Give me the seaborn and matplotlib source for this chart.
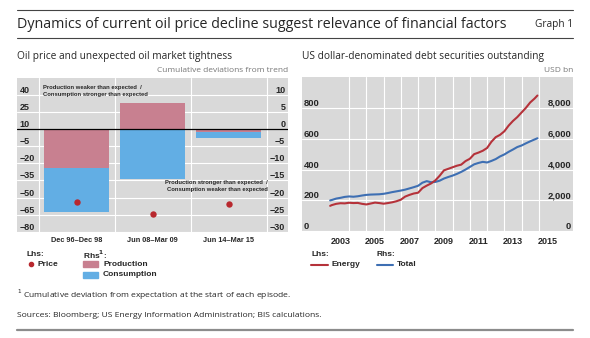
import matplotlib
matplotlib.use("Agg")
import matplotlib.pyplot as plt
import matplotlib.ticker as mticker
from matplotlib.lines import Line2D
from matplotlib.patches import Rectangle
import pandas as pd
import seaborn as sns

# ---------------- data ----------------
# Left panel: oil market episodes
episodes = ["Dec 96\u2013Dec 98", "Jun 08\u2013Mar 09", "Jun 14\u2013Mar 15"]
price = [-53.5, -64.5, -55.5]            # lhs, cumulative deviation from trend
production = [-11.4, 7.6, -0.7]          # rhs
consumption = [-12.8, -14.7, -1.9]       # rhs
lhs_ticks = [-80, -65, -50, -35, -20, -5, 10, 25, 40]
rhs_ticks = [-30, -25, -20, -15, -10, -5, 0, 5, 10]

# Right panel: US dollar-denominated debt securities outstanding (USD bn)
dates = [2002.90, 2003.00, 2003.25, 2003.50, 2003.75, 2004.00, 2004.25, 2004.50,
         2004.75, 2005.00, 2005.25, 2005.50, 2005.75, 2006.00, 2006.25, 2006.50,
         2006.75, 2007.00, 2007.25, 2007.50, 2007.75, 2008.00, 2008.25, 2008.50,
         2008.75, 2009.00, 2009.25, 2009.50, 2009.75, 2010.00, 2010.25, 2010.50,
         2010.75, 2011.00, 2011.25, 2011.50, 2011.75, 2012.00, 2012.25, 2012.50,
         2012.75, 2013.00, 2013.25, 2013.50, 2013.75, 2014.00, 2014.25, 2014.50,
         2014.75, 2014.92]
energy = [165, 170, 178, 182, 181, 185, 183, 184,
          178, 174, 180, 186, 183, 179, 183, 188,
          195, 205, 225, 236, 245, 250, 280, 296,
          310, 330, 360, 395, 405, 415, 425, 432,
          455, 470, 500, 510, 522, 540, 580, 610,
          625, 648, 685, 715, 740, 770, 800, 835,
          860, 880]
total = [2000, 2030, 2120, 2170, 2230, 2260, 2240, 2270,
         2320, 2360, 2380, 2390, 2400, 2430, 2480, 2540,
         2590, 2640, 2700, 2780, 2860, 2950, 3150, 3250,
         3180, 3200, 3280, 3420, 3520, 3610, 3720, 3850,
         4000, 4170, 4340, 4430, 4500, 4460, 4560, 4680,
         4850, 4980, 5150, 5300, 5460, 5560, 5700, 5830,
         5950, 6030]
energy_ticks = [0, 200, 400, 600, 800]
total_ticks = [0, 2000, 4000, 6000, 8000]
year_ticks = list(range(2004, 2016))
year_labels = ["2003", "2005", "2007", "2009", "2011", "2013", "2015"]

# ---------------- style ----------------
sns.set_style("white")
plt.rcParams["font.family"] = ["Liberation Sans", "DejaVu Sans"]

BG = "#d9d9d9"
PINK = "#c88090"
LIGHTBLUE = "#62aee4"
DOTRED = "#b8282e"
RED = "#b5323a"
BLUE = "#3e6fb3"
TITLE_FONT = ["Open Sans", "DejaVu Sans"]

W, H = 590, 338
fig = plt.figure(figsize=(W / 100, H / 100), dpi=100)


def fx(x):
    return x / W


def fy(y):
    return 1 - y / H


def clean(ax):
    for s in ax.spines.values():
        s.set_visible(False)


# ---------------- left panel ----------------
df = pd.DataFrame({"episode": episodes, "price": price,
                   "production": production, "consumption": consumption})
# consumption is stacked below production when both share a sign
df["lower"] = [c + p if (c < 0) == (p < 0) else c
               for p, c in zip(df["production"], df["consumption"])]

axL = fig.add_axes([fx(17), fy(231.7), (288 - 17) / W, (231.7 - 78) / H])
axL.set_facecolor(BG)
sns.barplot(data=df, x="episode", y="lower", color=LIGHTBLUE, saturation=1,
            width=0.855, errorbar=None, linewidth=0, ax=axL, zorder=2)
sns.barplot(data=df, x="episode", y="production", color=PINK, saturation=1,
            width=0.855, errorbar=None, linewidth=0, ax=axL, zorder=2)
axL.axhline(0, color="black", lw=0.9, zorder=4)

axP = axL.twinx()
sns.stripplot(data=df, x="episode", y="price", color=DOTRED, jitter=False,
              size=4.6, linewidth=0, ax=axP, zorder=5)

axL.yaxis.tick_right()
axP.yaxis.tick_left()

axL.set_ylim(-30, 15)
axP.set_ylim(-80, 55)
axL.set_yticks(rhs_ticks)
axL.set_yticklabels([f"{t}".replace("-", "\u2212") for t in rhs_ticks])
axP.set_yticks(lhs_ticks)
axP.set_yticklabels([f"{t}".replace("-", "\u2212") for t in lhs_ticks])

axL.set_xlim(-0.785, 2.78)
axL.set_xticks([0, 1, 2])
axL.set_xticklabels(episodes)
axL.set_xticks([-0.5, 0.5, 1.5, 2.5], minor=True)
axL.set_axisbelow(True)
axL.grid(False)
axL.yaxis.grid(True, color="white", lw=0.8)
axL.xaxis.grid(True, which="minor", color="white", lw=0.8)
axL.set_xlabel("")
axL.set_ylabel("")
axP.set_xlabel("")
axP.set_ylabel("")

axL.tick_params(axis="x", which="major", length=0, pad=4, labelsize=5.3)
axL.tick_params(axis="x", which="minor", direction="in", length=5,
                width=0.8, color="#222222")
axL.tick_params(axis="y", length=0, pad=-2, labelsize=6.5,
                labelright=True, labelleft=False)
axP.tick_params(axis="y", length=0, pad=-2, labelsize=6.5,
                labelleft=True, labelright=False)
for lbl in axL.get_xticklabels():
    lbl.set_fontweight("bold")
for lbl in axL.get_yticklabels():
    lbl.set_fontweight("bold")
    lbl.set_ha("right")
    lbl.set_va("bottom")
for lbl in axP.get_yticklabels():
    lbl.set_fontweight("bold")
    lbl.set_ha("left")
    lbl.set_va("bottom")
clean(axL)
clean(axP)

axL.text(0.095, 0.955, "Production weaker than expected  /\nConsumption stronger than expected",
         transform=axL.transAxes, ha="left", va="top", fontsize=4.2,
         fontweight="bold", linespacing=1.55)
axL.text(0.925, 0.335, "Production stronger than expected  /\nConsumption weaker than expected",
         transform=axL.transAxes, ha="right", va="top", fontsize=4.2,
         fontweight="bold", linespacing=1.55)

# ---------------- right panel ----------------
dr = pd.DataFrame({"date": dates, "energy": energy, "total": total})

axR = fig.add_axes([fx(301.7), fy(231.3), (573.3 - 301.7) / W, (231.3 - 77) / H])
axR.set_facecolor(BG)
sns.lineplot(data=dr, x="date", y="total", color=BLUE, lw=1.5, ax=axR, zorder=3)
axE = axR.twinx()
sns.lineplot(data=dr, x="date", y="energy", color=RED, lw=1.5, ax=axE, zorder=3)

axR.yaxis.tick_right()
axE.yaxis.tick_left()

axR.set_ylim(0, 10000)
axE.set_ylim(0, 1000)
axR.set_yticks(total_ticks)
axR.yaxis.set_major_formatter(mticker.FuncFormatter(lambda v, p: f"{int(v):,}"))
axE.set_yticks(energy_ticks)
axR.set_xlim(2001.25, 2017.0)
axR.set_xticks(year_ticks)
axR.set_xticklabels([])
axR.set_xticks([int(y) + 0.5 for y in year_labels], minor=True)
axR.set_xticklabels(year_labels, minor=True)
axR.set_axisbelow(True)
axR.grid(False)
axR.yaxis.grid(True, color="white", lw=0.8)
axR.xaxis.grid(True, which="major", color="white", lw=0.8)
for a in (axR, axE):
    a.set_xlabel("")
    a.set_ylabel("")
    clean(a)

axR.tick_params(axis="x", which="major", direction="in", length=5,
                width=0.8, color="#222222")
axR.tick_params(axis="x", which="minor", length=0, pad=4, labelsize=6.5)
axR.tick_params(axis="y", length=0, pad=-1.5, labelsize=6.8,
                labelright=True, labelleft=False)
axE.tick_params(axis="y", length=0, pad=-1.5, labelsize=6.8,
                labelleft=True, labelright=False)
for lbl in axR.get_xticklabels(minor=True):
    lbl.set_fontweight("bold")
for lbl in axR.get_yticklabels():
    lbl.set_fontweight("bold")
    lbl.set_ha("right")
    lbl.set_va("bottom")
for lbl in axE.get_yticklabels():
    lbl.set_fontweight("bold")
    lbl.set_ha("left")
    lbl.set_va("bottom")

# ---------------- titles and rules ----------------
fig.add_artist(Line2D([fx(17), fx(573)], [fy(10), fy(10)], color="#444444", lw=0.8))
fig.add_artist(Line2D([fx(17), fx(573)], [fy(38), fy(38)], color="#444444", lw=0.8))
fig.add_artist(Line2D([fx(17), fx(573)], [fy(330), fy(330)], color="#8c8c8c", lw=1.6))

fig.text(fx(17), fy(24), "Dynamics of current oil price decline suggest relevance of financial factors",
         family=TITLE_FONT, fontsize=10.3, ha="left", va="center")
fig.text(fx(573), fy(24), "Graph 1", family=TITLE_FONT, fontsize=7.3,
         ha="right", va="center")
fig.text(fx(17), fy(56.5), "Oil price and unexpected oil market tightness",
         family=TITLE_FONT, fontsize=7.3, ha="left", va="center")
fig.text(fx(302), fy(56.5), "US dollar-denominated debt securities outstanding",
         family=TITLE_FONT, fontsize=7.3, ha="left", va="center")
fig.text(fx(288), fy(70.5), "Cumulative deviations from trend", family=TITLE_FONT,
         fontsize=6, color="#777777", ha="right", va="center")
fig.text(fx(573), fy(70.5), "USD bn", family=TITLE_FONT, fontsize=6,
         color="#777777", ha="right", va="center")

# ---------------- legends ----------------
LEG = dict(fontsize=6, fontweight="bold", va="center", ha="left")
fig.text(fx(26.5), fy(254.5), "Lhs:", **LEG)
fig.add_artist(Line2D([fx(31)], [fy(264)], marker="o", markersize=3,
                      color=DOTRED, lw=0))
fig.text(fx(37), fy(264), "Price", **LEG)
fig.text(fx(83), fy(254.5), "Rhs$^{\\mathbf{1}}$:", **LEG)
fig.add_artist(Rectangle((fx(83), fy(267)), 15 / W, 6 / H, color=PINK,
                         transform=fig.transFigure))
fig.text(fx(103), fy(264), "Production", **LEG)
fig.add_artist(Rectangle((fx(83), fy(278)), 15 / W, 6 / H, color=LIGHTBLUE,
                         transform=fig.transFigure))
fig.text(fx(103), fy(275), "Consumption", **LEG)

fig.text(fx(311.5), fy(254.5), "Lhs:", **LEG)
fig.add_artist(Line2D([fx(311.5), fx(328)], [fy(264.5), fy(264.5)], color=RED, lw=1.5))
fig.text(fx(332), fy(264.5), "Energy", **LEG)
fig.text(fx(376.5), fy(254.5), "Rhs:", **LEG)
fig.add_artist(Line2D([fx(376.5), fx(393)], [fy(264.5), fy(264.5)], color=BLUE, lw=1.5))
fig.text(fx(397), fy(264.5), "Total", **LEG)

# ---------------- notes ----------------
fig.text(fx(17), fy(295), "$^{1}$ Cumulative deviation from expectation at the start of each episode.",
         family=TITLE_FONT, fontsize=6.1, ha="left", va="center")
fig.text(fx(17), fy(315.5), "Sources: Bloomberg; US Energy Information Administration; BIS calculations.",
         family=TITLE_FONT, fontsize=6.1, ha="left", va="center")

fig.savefig("out.png", dpi=100)
